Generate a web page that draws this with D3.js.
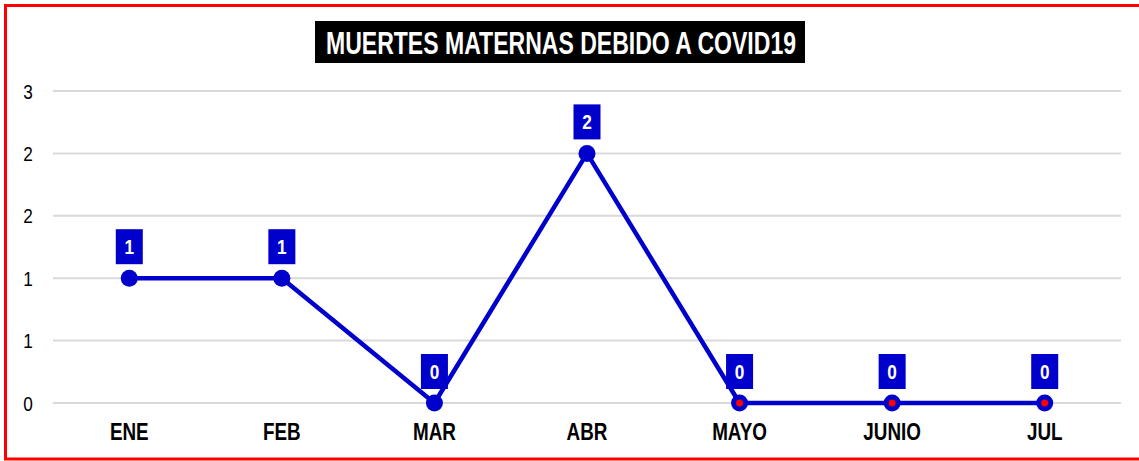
<!DOCTYPE html>
<html>
<head>
<meta charset="utf-8">
<script src="https://cdn.jsdelivr.net/npm/d3@7"></script>
<style>
  body { margin: 0; background: #fff; }
  svg { display: block; }
  text { font-family: 'Liberation Sans Narrow', 'Arial Narrow', 'Liberation Sans', Arial, sans-serif; }
</style>
</head>
<body>
<div class="canvas"></div>
<script>
'use strict';

const months = ['ENE', 'FEB', 'MAR', 'ABR', 'MAYO', 'JUNIO', 'JUL'];
const deaths = [1, 1, 0, 2, 0, 0, 0];
const yTicks = [0, 0.5, 1, 1.5, 2, 2.5];
// the last three markers carry a red centre dot
const redDot = [false, false, false, false, true, true, true];

const dims = { width: 1139, height: 461 };
const plot = { left: 53, right: 1121, top: 91, bottom: 403 };
const blue = '#0000cc';
const narrow = 0.82; // fake the Arial Narrow look

const svg = d3.select('.canvas')
    .append('svg')
    .attr('width', dims.width)
    .attr('height', dims.height);

svg.append('rect')
    .attr('x', 5.5).attr('y', 5.5)
    .attr('width', 1140).attr('height', 453.5)
    .attr('fill', 'none')
    .attr('stroke', '#ff0000')
    .attr('stroke-width', 3);

// title
const titleG = svg.append('g');
titleG.append('rect')
    .attr('x', 315).attr('y', 21)
    .attr('width', 490).attr('height', 42)
    .attr('fill', '#000');
titleG.append('text')
    .attr('x', 561).attr('y', 54)
    .attr('text-anchor', 'middle')
    .attr('fill', '#fff')
    .attr('font-weight', 'bold')
    .attr('font-size', 31)
    .attr('textLength', 470)
    .attr('lengthAdjust', 'spacingAndGlyphs')
    .text('MUERTES MATERNAS DEBIDO A COVID19');

const x = d3.scaleBand()
    .domain(months)
    .range([plot.left, plot.right]);

const y = d3.scaleLinear()
    .domain([0, 2.5])
    .range([plot.bottom, plot.top]);

// gridlines + y labels
svg.append('g')
    .selectAll('line')
    .data(yTicks)
    .enter().append('line')
    .attr('x1', plot.left).attr('x2', plot.right)
    .attr('y1', d => y(d)).attr('y2', d => y(d))
    .attr('stroke', '#d9d9d9')
    .attr('stroke-width', 2);

svg.append('g')
    .selectAll('text')
    .data(yTicks)
    .enter().append('text')
    .attr('transform', d => `translate(28,${y(d) + 7.5}) scale(${narrow},1)`)
    .attr('text-anchor', 'middle')
    .attr('font-size', 21)
    .attr('fill', '#000')
    .text(d => d3.format('.0f')(d));

// x labels
svg.append('g')
    .selectAll('text')
    .data(months)
    .enter().append('text')
    .attr('transform', d => `translate(${x(d) + x.bandwidth() / 2},440) scale(${narrow},1)`)
    .attr('text-anchor', 'middle')
    .attr('font-size', 23)
    .attr('font-weight', 'bold')
    .attr('fill', '#000')
    .text(d => d);

const data = months.map((m, i) => ({ month: m, value: deaths[i], red: redDot[i] }));
const cx = d => x(d.month) + x.bandwidth() / 2;

const line = d3.line()
    .x(cx)
    .y(d => y(d.value));

svg.append('path')
    .datum(data)
    .attr('d', line)
    .attr('fill', 'none')
    .attr('stroke', blue)
    .attr('stroke-width', 4.5)
    .attr('stroke-linejoin', 'round');

// data labels
const labels = svg.append('g')
    .selectAll('g')
    .data(data)
    .enter().append('g')
    .attr('transform', d => `translate(${cx(d)},${y(d.value) - 14})`);

labels.append('rect')
    .attr('x', -13.5).attr('y', -35)
    .attr('width', 27).attr('height', 35)
    .attr('fill', blue);

labels.append('text')
    .attr('transform', `translate(0,-10) scale(${narrow},1)`)
    .attr('text-anchor', 'middle')
    .attr('font-size', 21)
    .attr('font-weight', 'bold')
    .attr('fill', '#fff')
    .text(d => d.value);

// markers
svg.append('g')
    .selectAll('circle')
    .data(data)
    .enter().append('circle')
    .attr('cx', cx)
    .attr('cy', d => y(d.value))
    .attr('r', 8.5)
    .attr('fill', blue);

svg.append('g')
    .selectAll('circle')
    .data(data.filter(d => d.red))
    .enter().append('circle')
    .attr('cx', cx)
    .attr('cy', d => y(d.value))
    .attr('r', 3.5)
    .attr('fill', '#ff0000');
</script>
</body>
</html>
